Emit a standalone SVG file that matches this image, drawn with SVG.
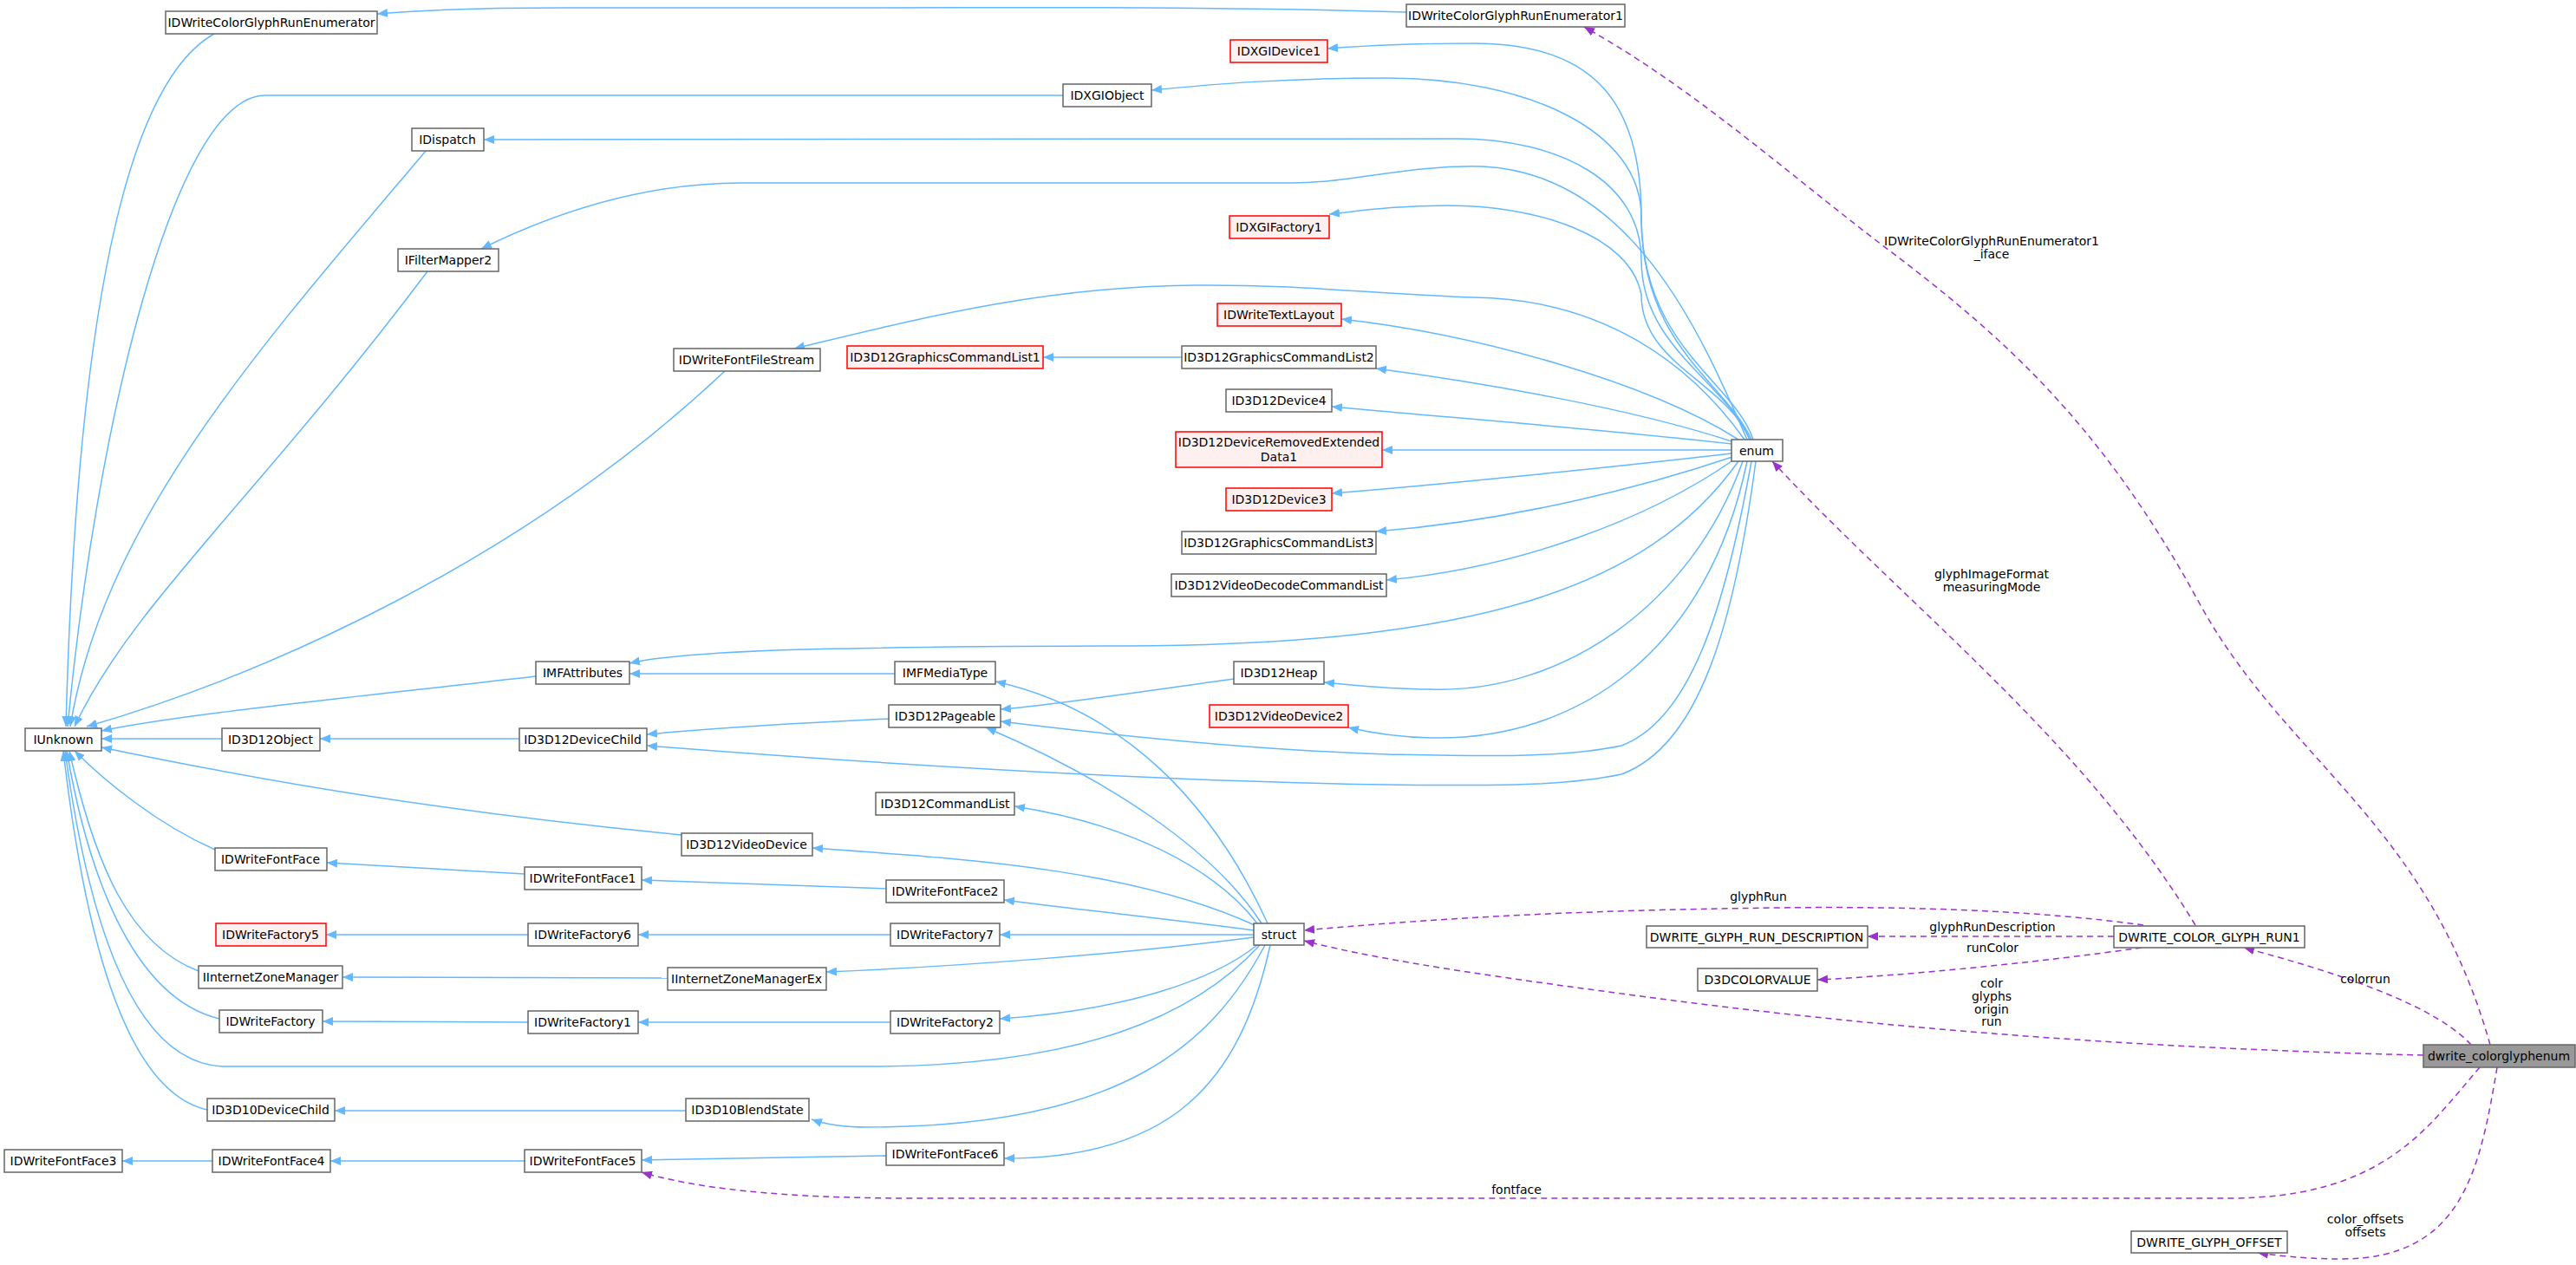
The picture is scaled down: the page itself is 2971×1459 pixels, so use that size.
<svg xmlns="http://www.w3.org/2000/svg" width="2971" height="1459" viewBox="0 0 2971 1459">
<defs>
<style>
.n rect{fill:#fff;stroke:#666;stroke-width:1.5}
.r rect{fill:#FFF0F0;stroke:#F00;stroke-width:1.5}
.m rect{fill:#999;stroke:#666;stroke-width:1.5}
text{font-family:"DejaVu Sans","Liberation Sans",sans-serif;font-size:14px;fill:#000}
.n text,.r text,.m text{text-anchor:middle}
.lb{text-anchor:middle;font-size:14px}
.b{fill:none;stroke:#63B8FF;stroke-width:1.5;marker-start:url(#ab)}
.p{fill:none;stroke:#9A32CD;stroke-width:1.5;stroke-dasharray:7,5;marker-end:url(#ap)}
</style>
<marker id="ab" viewBox="0 0 12 10" refX="0" refY="5" markerWidth="12" markerHeight="10" markerUnits="userSpaceOnUse" orient="auto"><path d="M0,5 L12,0 L12,10 Z" fill="#63B8FF"/></marker>
<marker id="ap" viewBox="0 0 12 10" refX="12" refY="5" markerWidth="12" markerHeight="10" markerUnits="userSpaceOnUse" orient="auto"><path d="M0,0 L12,5 L0,10 Z" fill="#9A32CD"/></marker>
</defs>
<rect width="2971" height="1459" fill="#fff"/>
<g id="connectors">
<path class="b" d="M435,16 C480,12 550,9 650,9 L1000,9 C1200,9 1400,7 1622,14"/>
<path class="b" d="M1531,56 C1570,53 1620,50 1700,50 C1840,50 1893,120 1893,250 C1893,400 2000,440 2022,507"/>
<path class="b" d="M1328,104 C1400,97 1480,90 1600,90 C1760,90 1893,150 1893,250 C1893,400 1990,440 2020,507"/>
<path class="b" d="M558,161 L1680,160 C1800,160 1893,210 1893,300 C1893,400 1990,440 2018,507"/>
<path class="b" d="M555,287 C640,245 740,211 855,211 L1490,211 C1560,211 1620,190 1710,192 C1880,200 1960,380 2015,507"/>
<path class="b" d="M1533,247 C1570,243 1610,237 1670,237 C1770,237 1880,270 1893,340 C1893,420 1990,440 2018,507"/>
<path class="b" d="M916,402 C1050,370 1200,330 1380,329 C1500,328 1600,340 1700,343 C1850,345 1950,420 2012,507"/>
<path class="b" d="M1547,368 C1700,385 1900,440 2005,507"/>
<path class="b" d="M1587,425 C1700,440 1880,470 2000,510"/>
<path class="b" d="M1536,469 C1650,480 1850,495 1997,512"/>
<path class="b" d="M1594,519 L1997,519"/>
<path class="b" d="M1536,569 C1650,560 1850,540 1997,523"/>
<path class="b" d="M1587,613 C1750,600 1900,560 1998,527"/>
<path class="b" d="M1599,669 C1750,655 1900,600 2000,530"/>
<path class="b" d="M726,765 C800,748 1000,746 1300,745 C1700,743 1900,680 2005,532"/>
<path class="b" d="M1527,787 C1560,790 1600,795 1650,795 C1800,800 1950,700 2010,532"/>
<path class="b" d="M1555,839 C1580,845 1610,850 1650,851 C1820,855 1970,750 2015,532"/>
<path class="b" d="M1154,832 C1300,850 1450,865 1600,870 C1700,872 1800,875 1870,860 C1950,830 1990,700 2020,532"/>
<path class="b" d="M746,860 C1000,880 1300,900 1600,905 C1700,906 1800,908 1870,893 C1960,860 2000,720 2025,532"/>
<path class="b" d="M76,838 C85,500 120,110 247,39"/>
<path class="b" d="M78,838 C110,500 200,110 306,110 L1226,110"/>
<path class="b" d="M81,838 C120,600 300,400 492,173"/>
<path class="b" d="M86,838 C150,700 300,570 493,313"/>
<path class="b" d="M100,838 C300,780 600,650 836,428"/>
<path class="b" d="M117,843 C200,825 400,805 618,780"/>
<path class="b" d="M117,852 L256,852"/>
<path class="b" d="M369,852 L599,852"/>
<path class="b" d="M117,862 C300,900 500,935 786,963"/>
<path class="b" d="M86,866 C120,900 180,950 248,980"/>
<path class="b" d="M80,866 C110,1000 150,1090 229,1120"/>
<path class="b" d="M77,866 C100,1000 150,1150 253,1175"/>
<path class="b" d="M75,866 C100,1050 150,1230 261,1230 L1000,1230 C1250,1230 1380,1170 1453,1090"/>
<path class="b" d="M73,866 C100,1100 150,1260 239,1280"/>
<path class="b" d="M386,1281 L791,1281"/>
<path class="b" d="M936,1291 C950,1296 970,1300 1000,1300 C1300,1300 1400,1200 1459,1090"/>
<path class="b" d="M1158,1336 C1350,1336 1430,1250 1465,1090"/>
<path class="b" d="M740,1338 L1022,1333"/>
<path class="b" d="M381,1339 L605,1339"/>
<path class="b" d="M141,1339 L245,1339"/>
<path class="b" d="M377,995 L605,1008"/>
<path class="b" d="M740,1015 L1022,1025"/>
<path class="b" d="M1158,1038 C1250,1050 1350,1060 1446,1073"/>
<path class="b" d="M1153,1078 L1446,1078"/>
<path class="b" d="M736,1078 L1027,1078"/>
<path class="b" d="M376,1078 L609,1078"/>
<path class="b" d="M953,1121 C1100,1115 1300,1100 1446,1081"/>
<path class="b" d="M395,1127 L770,1128"/>
<path class="b" d="M1153,1175 C1300,1165 1400,1130 1450,1090"/>
<path class="b" d="M736,1179 L1027,1179"/>
<path class="b" d="M372,1178 L609,1179"/>
<path class="b" d="M937,978 C1100,990 1300,1000 1447,1067"/>
<path class="b" d="M1170,930 C1300,950 1400,1000 1450,1065"/>
<path class="b" d="M1137,839 C1280,900 1400,980 1455,1065"/>
<path class="b" d="M1148,786 C1300,820 1400,930 1462,1065"/>
<path class="b" d="M726,777 L1032,777"/>
<path class="b" d="M746,847 C800,842 900,835 1025,829"/>
<path class="b" d="M1154,818 C1200,815 1300,800 1423,783"/>
<path class="b" d="M1203,412 L1363,412"/>
<path class="p" d="M2532,1067 C2400,850 2200,700 2044,532"/>
<path class="p" d="M2472,1067 C2350,1050 2200,1045 2050,1047 C1800,1050 1650,1060 1504,1073"/>
<path class="p" d="M2438,1080 L2154,1080"/>
<path class="p" d="M2470,1093 C2350,1110 2200,1125 2096,1130"/>
<path class="p" d="M2795,1217 C2500,1210 2200,1190 1900,1150 C1750,1130 1600,1110 1504,1085"/>
<path class="p" d="M2850,1205 C2800,1150 2650,1110 2588,1093"/>
<path class="p" d="M2860,1231 C2800,1300 2750,1382 2570,1382 L1050,1382 C900,1382 800,1370 740,1352"/>
<path class="p" d="M2880,1231 C2860,1350 2840,1452 2700,1452 C2670,1452 2640,1450 2604,1445"/>
<path class="p" d="M2872,1205 C2800,950 2640,880 2539,700 C2420,480 2300,380 2166,279 C2050,190 1950,100 1827,31"/>
<text class="lb" x="2297" y="283">IDWriteColorGlyphRunEnumerator1</text>
<text class="lb" x="2297" y="298">_iface</text>
<text class="lb" x="2297" y="667">glyphImageFormat</text>
<text class="lb" x="2297" y="682">measuringMode</text>
<text class="lb" x="2028" y="1039">glyphRun</text>
<text class="lb" x="2298" y="1074">glyphRunDescription</text>
<text class="lb" x="2298" y="1098">runColor</text>
<text class="lb" x="2297" y="1139">colr</text>
<text class="lb" x="2297" y="1154">glyphs</text>
<text class="lb" x="2297" y="1169">origin</text>
<text class="lb" x="2297" y="1183">run</text>
<text class="lb" x="2728" y="1134">colorrun</text>
<text class="lb" x="1749" y="1377">fontface</text>
<text class="lb" x="2728" y="1411">color_offsets</text>
<text class="lb" x="2728" y="1426">offsets</text>
</g>
<g id="IDWriteColorGlyphRunEnumerator" class="n"><rect x="191" y="13" width="244" height="26"/><text x="313" y="31">IDWriteColorGlyphRunEnumerator</text></g>
<g id="IDWriteColorGlyphRunEnumerator1" class="n"><rect x="1622" y="5" width="252" height="26"/><text x="1748" y="23">IDWriteColorGlyphRunEnumerator1</text></g>
<g id="IDXGIDevice1" class="r"><rect x="1419" y="46" width="112" height="26"/><text x="1475" y="64">IDXGIDevice1</text></g>
<g id="IDXGIObject" class="n"><rect x="1226" y="97" width="102" height="26"/><text x="1277" y="115">IDXGIObject</text></g>
<g id="IDispatch" class="n"><rect x="475" y="148" width="83" height="26"/><text x="516" y="166">IDispatch</text></g>
<g id="IDXGIFactory1" class="r"><rect x="1418" y="249" width="115" height="26"/><text x="1475" y="267">IDXGIFactory1</text></g>
<g id="IFilterMapper2" class="n"><rect x="459" y="287" width="116" height="26"/><text x="517" y="305">IFilterMapper2</text></g>
<g id="IDWriteTextLayout" class="r"><rect x="1404" y="350" width="143" height="26"/><text x="1475" y="368">IDWriteTextLayout</text></g>
<g id="IDWriteFontFileStream" class="n"><rect x="777" y="402" width="169" height="26"/><text x="861" y="420">IDWriteFontFileStream</text></g>
<g id="ID3D12GraphicsCommandList1" class="r"><rect x="977" y="399" width="226" height="26"/><text x="1090" y="417">ID3D12GraphicsCommandList1</text></g>
<g id="ID3D12GraphicsCommandList2" class="n"><rect x="1363" y="399" width="224" height="26"/><text x="1475" y="417">ID3D12GraphicsCommandList2</text></g>
<g id="ID3D12Device4" class="n"><rect x="1414" y="449" width="122" height="26"/><text x="1475" y="467">ID3D12Device4</text></g>
<g id="ID3D12DeviceRemovedExtendedData1" class="r"><rect x="1356" y="498" width="238" height="41"/><text x="1475" y="515">ID3D12DeviceRemovedExtended</text><text x="1475" y="532">Data1</text></g>
<g id="enum" class="n"><rect x="1997" y="507" width="59" height="25"/><text x="2026" y="525">enum</text></g>
<g id="ID3D12Device3" class="r"><rect x="1414" y="563" width="122" height="26"/><text x="1475" y="581">ID3D12Device3</text></g>
<g id="ID3D12GraphicsCommandList3" class="n"><rect x="1363" y="613" width="224" height="26"/><text x="1475" y="631">ID3D12GraphicsCommandList3</text></g>
<g id="ID3D12VideoDecodeCommandList" class="n"><rect x="1351" y="662" width="248" height="26"/><text x="1475" y="680">ID3D12VideoDecodeCommandList</text></g>
<g id="IMFAttributes" class="n"><rect x="618" y="763" width="108" height="26"/><text x="672" y="781">IMFAttributes</text></g>
<g id="IMFMediaType" class="n"><rect x="1032" y="763" width="116" height="26"/><text x="1090" y="781">IMFMediaType</text></g>
<g id="ID3D12Heap" class="n"><rect x="1423" y="763" width="104" height="26"/><text x="1475" y="781">ID3D12Heap</text></g>
<g id="ID3D12Pageable" class="n"><rect x="1025" y="813" width="129" height="26"/><text x="1090" y="831">ID3D12Pageable</text></g>
<g id="ID3D12VideoDevice2" class="r"><rect x="1395" y="813" width="160" height="26"/><text x="1475" y="831">ID3D12VideoDevice2</text></g>
<g id="IUnknown" class="n"><rect x="29" y="840" width="88" height="26"/><text x="73" y="858">IUnknown</text></g>
<g id="ID3D12Object" class="n"><rect x="256" y="840" width="113" height="26"/><text x="312" y="858">ID3D12Object</text></g>
<g id="ID3D12DeviceChild" class="n"><rect x="599" y="840" width="147" height="26"/><text x="672" y="858">ID3D12DeviceChild</text></g>
<g id="ID3D12CommandList" class="n"><rect x="1010" y="914" width="160" height="26"/><text x="1090" y="932">ID3D12CommandList</text></g>
<g id="ID3D12VideoDevice" class="n"><rect x="786" y="961" width="151" height="26"/><text x="861" y="979">ID3D12VideoDevice</text></g>
<g id="IDWriteFontFace" class="n"><rect x="248" y="978" width="129" height="26"/><text x="312" y="996">IDWriteFontFace</text></g>
<g id="IDWriteFontFace1" class="n"><rect x="605" y="1000" width="135" height="26"/><text x="672" y="1018">IDWriteFontFace1</text></g>
<g id="IDWriteFontFace2" class="n"><rect x="1022" y="1015" width="136" height="26"/><text x="1090" y="1033">IDWriteFontFace2</text></g>
<g id="IDWriteFactory5" class="r"><rect x="249" y="1065" width="127" height="26"/><text x="312" y="1083">IDWriteFactory5</text></g>
<g id="IDWriteFactory6" class="n"><rect x="609" y="1065" width="127" height="26"/><text x="672" y="1083">IDWriteFactory6</text></g>
<g id="IDWriteFactory7" class="n"><rect x="1027" y="1065" width="126" height="26"/><text x="1090" y="1083">IDWriteFactory7</text></g>
<g id="struct" class="n"><rect x="1446" y="1065" width="58" height="25"/><text x="1475" y="1083">struct</text></g>
<g id="DWRITE_GLYPH_RUN_DESCRIPTION" class="n"><rect x="1899" y="1068" width="255" height="25"/><text x="2026" y="1086">DWRITE_GLYPH_RUN_DESCRIPTION</text></g>
<g id="DWRITE_COLOR_GLYPH_RUN1" class="n"><rect x="2438" y="1068" width="220" height="25"/><text x="2548" y="1086">DWRITE_COLOR_GLYPH_RUN1</text></g>
<g id="IInternetZoneManager" class="n"><rect x="229" y="1114" width="166" height="26"/><text x="312" y="1132">IInternetZoneManager</text></g>
<g id="IInternetZoneManagerEx" class="n"><rect x="770" y="1116" width="183" height="26"/><text x="861" y="1134">IInternetZoneManagerEx</text></g>
<g id="D3DCOLORVALUE" class="n"><rect x="1958" y="1117" width="138" height="26"/><text x="2027" y="1135">D3DCOLORVALUE</text></g>
<g id="IDWriteFactory" class="n"><rect x="253" y="1165" width="119" height="26"/><text x="312" y="1183">IDWriteFactory</text></g>
<g id="IDWriteFactory1" class="n"><rect x="609" y="1166" width="127" height="26"/><text x="672" y="1184">IDWriteFactory1</text></g>
<g id="IDWriteFactory2" class="n"><rect x="1027" y="1166" width="126" height="26"/><text x="1090" y="1184">IDWriteFactory2</text></g>
<g id="dwrite_colorglyphenum" class="m"><rect x="2795" y="1205" width="175" height="26"/><text x="2882" y="1223">dwrite_colorglyphenum</text></g>
<g id="ID3D10DeviceChild" class="n"><rect x="239" y="1267" width="147" height="26"/><text x="312" y="1285">ID3D10DeviceChild</text></g>
<g id="ID3D10BlendState" class="n"><rect x="791" y="1267" width="142" height="26"/><text x="862" y="1285">ID3D10BlendState</text></g>
<g id="IDWriteFontFace6" class="n"><rect x="1022" y="1318" width="136" height="26"/><text x="1090" y="1336">IDWriteFontFace6</text></g>
<g id="IDWriteFontFace3" class="n"><rect x="5" y="1326" width="136" height="26"/><text x="73" y="1344">IDWriteFontFace3</text></g>
<g id="IDWriteFontFace4" class="n"><rect x="245" y="1326" width="136" height="26"/><text x="313" y="1344">IDWriteFontFace4</text></g>
<g id="IDWriteFontFace5" class="n"><rect x="605" y="1326" width="135" height="26"/><text x="672" y="1344">IDWriteFontFace5</text></g>
<g id="DWRITE_GLYPH_OFFSET" class="n"><rect x="2458" y="1420" width="180" height="25"/><text x="2548" y="1438">DWRITE_GLYPH_OFFSET</text></g>
</svg>
